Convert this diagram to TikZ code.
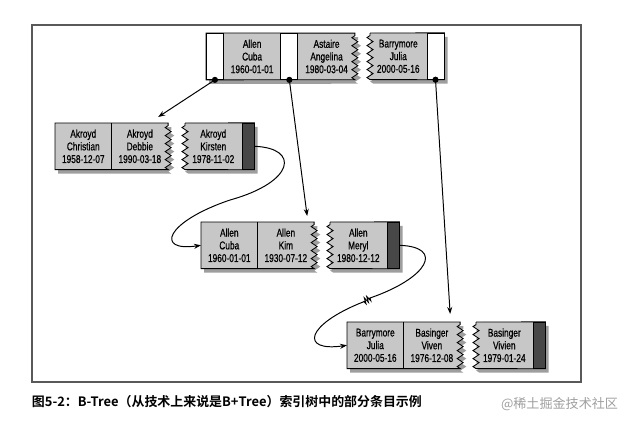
\documentclass[tikz,border=0pt]{standalone}
\usepackage{fontspec}
\newfontfamily\cellfont[FakeStretch=0.74, FakeBold=0.6]{Liberation Sans}
\newfontfamily\capfont[BoldFont={Noto Sans CJK SC Bold}]{Noto Sans CJK SC}
\usetikzlibrary{positioning, backgrounds, shadows, decorations.pathmorphing, arrows.meta}

\definecolor{keygray}{gray}{0.78}
\definecolor{shadegray}{gray}{0.62}
\definecolor{darkgray}{gray}{0.28}

\tikzset{
    keycell/.style={rectangle, inner sep=0pt, minimum width=1.4cm, minimum height=1.15cm,
        align=center, font=\cellfont\fontsize{8}{9}\selectfont},
    ptrcell/.style={rectangle, draw, fill=white, line width=0.6pt, inner sep=0pt,
        minimum width=0.425cm, minimum height=1.15cm},
    darkcell/.style={rectangle, draw, fill=darkgray, line width=0.6pt, inner sep=0pt,
        minimum width=0.3cm, minimum height=1.15cm},
    page/.style={fill=keygray, draw, line width=0.6pt,
        drop shadow={shadow xshift=0.08cm, shadow yshift=-0.1cm, fill=shadegray, opacity=1}},
    zz/.style={decoration={zigzag, segment length=0.2cm, amplitude=0.075cm}},
    brk/.style={decoration={zigzag, segment length=0.07cm, amplitude=0.07cm}},
    link/.style={line width=0.7pt, -{Stealth[length=5pt, width=3.6pt]}},
    divider/.style={line width=0.6pt}
}

\begin{document}
\begin{tikzpicture}[x=0.025cm, y=-0.025cm]
    \useasboundingbox (0,0) rectangle (636,424);

    % Frame
    \draw[black!65, line width=0.8pt] (32,25) rectangle (581,382);

    % Root page
    \node[ptrcell, anchor=north west] (rp1) at (206,33) {};
    \node[keycell, right=0pt of rp1] (rk1) {Allen\\Cuba\\1960-01-01};
    \node[ptrcell, right=0pt of rk1] (rp2) {};
    \node[keycell, right=0pt of rp2] (rk2) {Astaire\\Angelina\\1980-03-04};
    \node[keycell, anchor=north west] (rk3) at (370,33) {Barrymore\\Julia\\2000-05-16};
    \node[ptrcell, right=0pt of rk3] (rp3) {};

    % Leaf pages
    \node[keycell, anchor=north west] (ak1) at (55,123) {Akroyd\\Christian\\1958-12-07};
    \node[keycell, right=0pt of ak1] (ak2) {Akroyd\\Debbie\\1990-03-18};
    \node[keycell, anchor=north west] (ak3) at (185,123) {Akroyd\\Kirsten\\1978-11-02};
    \node[darkcell, right=0pt of ak3] (akd) {};

    \node[keycell, anchor=north west] (al1) at (201,222) {Allen\\Cuba\\1960-01-01};
    \node[keycell, right=0pt of al1] (al2) {Allen\\Kim\\1930-07-12};
    \node[keycell, anchor=north west] (al3) at (330,222) {Allen\\Meryl\\1980-12-12};
    \node[darkcell, right=0pt of al3] (ald) {};

    \node[keycell, anchor=north west] (ba1) at (347,322) {Barrymore\\Julia\\2000-05-16};
    \node[keycell, right=0pt of ba1] (ba2) {Basinger\\Viven\\1976-12-08};
    \node[keycell, anchor=north west] (ba3) at (476,322) {Basinger\\Vivien\\1979-01-24};
    \node[darkcell, right=0pt of ba3] (bad) {};

    % Page outlines with torn edges
    \begin{scope}[on background layer]
        \path[page] (rk2.north east) -- (rp1.north west) -- (rp1.south west) -- (rk2.south east)
            decorate[zz]{-- (rk2.north east)} -- cycle;
        \path[page] (rk3.north west) -- (rp3.north east) -- (rp3.south east) -- (rk3.south west)
            decorate[zz]{-- (rk3.north west)} -- cycle;
        \path[page] (ak2.north east) -- (ak1.north west) -- (ak1.south west) -- (ak2.south east)
            decorate[zz]{-- (ak2.north east)} -- cycle;
        \path[page] (ak3.north west) -- (akd.north east) -- (akd.south east) -- (ak3.south west)
            decorate[zz]{-- (ak3.north west)} -- cycle;
        \path[page] (al2.north east) -- (al1.north west) -- (al1.south west) -- (al2.south east)
            decorate[zz]{-- (al2.north east)} -- cycle;
        \path[page] (al3.north west) -- (ald.north east) -- (ald.south east) -- (al3.south west)
            decorate[zz]{-- (al3.north west)} -- cycle;
        \path[page] (ba2.north east) -- (ba1.north west) -- (ba1.south west) -- (ba2.south east)
            decorate[zz]{-- (ba2.north east)} -- cycle;
        \path[page] (ba3.north west) -- (bad.north east) -- (bad.south east) -- (ba3.south west)
            decorate[zz]{-- (ba3.north west)} -- cycle;
    \end{scope}

    % Dividers between keys
    \draw[divider] (ak1.north east) -- (ak1.south east);
    \draw[divider] (al1.north east) -- (al1.south east);
    \draw[divider] (ba1.north east) -- (ba1.south east);

    % Child pointers
    \fill (rp1.south) circle[radius=2.2pt];
    \fill (rp2.south) circle[radius=2.2pt];
    \fill (rp3.south) circle[radius=2.2pt];
    \draw[link] (rp1.south) -- ([xshift=-0.25cm, yshift=0.15cm]ak2.north east);
    \draw[link] (rp2.south) -- ([xshift=-0.175cm, yshift=0.15cm]al2.north east);
    \draw[link] (rp3.south) -- ([xshift=-0.25cm, yshift=0.2cm]ba2.north east);

    % Next-page links
    \draw[link] (akd.east) .. controls (300,148) and (295,182) .. (230,200)
        .. controls (165,222) and (155,252) .. (al1.west);
    \draw[link] (ald.east) .. controls (445,247) and (428,278) .. (370,298)
        decorate[brk]{-- (363,302)} .. controls (305,325) and (300,352) .. (ba1.west);

    % Caption
    \node[anchor=west, font=\capfont\bfseries\fontsize{9.2}{10}\selectfont] (caption) at (27,402)
        {图5-2：B-Tree（从技术上来说是B+Tree）索引树中的部分条目示例};
    \node[anchor=east, text=gray!75, font=\capfont\fontsize{9.3}{10}\selectfont] (mark) at (623,404)
        {@稀土掘金技术社区};
\end{tikzpicture}
\end{document}
